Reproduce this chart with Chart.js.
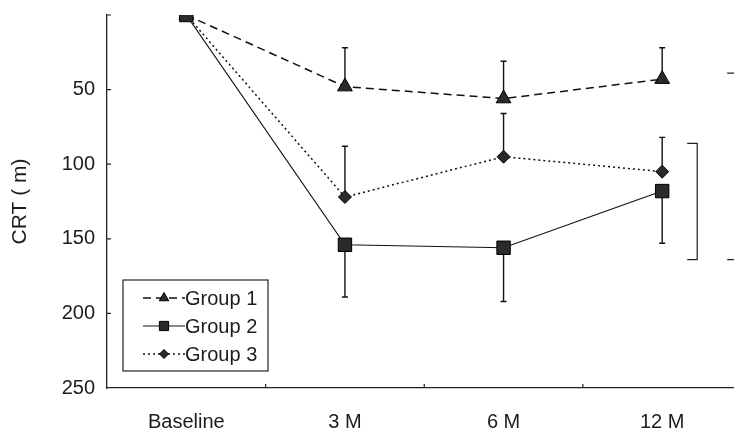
<!DOCTYPE html>
<html>
<head>
<meta charset="utf-8">
<script src="https://cdn.jsdelivr.net/npm/chart.js@4.4.0/dist/chart.umd.min.js"></script>
<style>
    html, body { margin: 0; padding: 0; background: #fff; overflow: hidden; }
    #wrap { width: 752px; height: 432px; }
</style>
</head>
<body>
<div id="wrap"><canvas id="chart" width="752" height="432"></canvas></div>
<script>
const categories = ['Baseline', '3 M', '6 M', '12 M'];
const seriesNames = ['Group 1', 'Group 2', 'Group 3'];
const group1Values = [0, 48, 56, 43];
const group1Sd = [0, 26, 25, 21];
const group2Values = [0, 154, 156, 118];
const group2Sd = [0, 35, 36, 35];
const group3Values = [0, 122, 95, 105];
const group3Sd = [0, 34, 29, 23];
const yTickValues = [0, 50, 100, 150, 200, 250];
// significance brackets drawn to the right of 12 M, [from, to] in CRT units
const brackets = [[86, 164], [39, 164]];

const FONT = '"Liberation Sans", Arial, sans-serif';
const INK = '#1c1c1c';

// draw a marker shape (used by the boxed legend)
function drawMarker(ctx, style, x, y, r) {
    ctx.beginPath();
    if (style === 'triangle') {
        ctx.moveTo(x, y - r);
        ctx.lineTo(x + r * 0.866, y + r / 2);
        ctx.lineTo(x - r * 0.866, y + r / 2);
        ctx.closePath();
    } else if (style === 'rect') {
        const s = r * Math.SQRT1_2;
        ctx.rect(x - s, y - s, 2 * s, 2 * s);
    } else {
        ctx.moveTo(x, y - r);
        ctx.lineTo(x + r, y);
        ctx.lineTo(x, y + r);
        ctx.lineTo(x - r, y);
        ctx.closePath();
    }
    ctx.fill();
    ctx.stroke();
}

const errorBars = {
    id: 'errorBars',
    beforeDatasetsDraw(chart) {
        const { ctx, scales: { y } } = chart;
        ctx.save();
        ctx.strokeStyle = '#111';
        ctx.lineWidth = 1.4;
        chart.data.datasets.forEach((ds, i) => {
            const meta = chart.getDatasetMeta(i);
            meta.data.forEach((pt, j) => {
                const sd = ds.sd[j];
                if (!sd) return;
                const yEnd = y.getPixelForValue(ds.data[j] + ds.errorDir * sd);
                ctx.beginPath();
                ctx.moveTo(pt.x, pt.y);
                ctx.lineTo(pt.x, yEnd);
                ctx.moveTo(pt.x - 3, yEnd);
                ctx.lineTo(pt.x + 3, yEnd);
                ctx.stroke();
            });
        });
        ctx.restore();
    }
};

const extras = {
    id: 'extras',
    afterDraw(chart) {
        const { ctx, chartArea: a, scales: { x, y } } = chart;
        ctx.save();
        ctx.strokeStyle = '#222';
        ctx.lineWidth = 1.2;

        // inward tick marks
        ctx.beginPath();
        y.ticks.forEach(t => {
            if (t.value >= 250) return;
            const py = y.getPixelForValue(t.value);
            ctx.moveTo(a.left, py);
            ctx.lineTo(a.left + 4, py);
        });
        for (let i = 1; i < categories.length; i++) {
            const px = (x.getPixelForValue(i - 1) + x.getPixelForValue(i)) / 2;
            ctx.moveTo(px, a.bottom);
            ctx.lineTo(px, a.bottom - 4);
        }
        ctx.stroke();

        // brackets
        ctx.beginPath();
        brackets.forEach(([from, to], k) => {
            const bx = x.getPixelForValue(categories.length - 1) + 35 + k * 40;
            const y1 = y.getPixelForValue(from);
            const y2 = y.getPixelForValue(to);
            ctx.moveTo(bx - 10, y1);
            ctx.lineTo(bx, y1);
            ctx.lineTo(bx, y2);
            ctx.lineTo(bx - 10, y2);
        });
        ctx.stroke();

        // boxed legend in the lower left
        const left = a.left + 16, top = a.bottom - 108;
        ctx.fillStyle = '#fff';
        ctx.fillRect(left, top, 145, 91);
        ctx.strokeRect(left, top, 145, 91);
        chart.data.datasets.forEach((ds, i) => {
            const cy = top + 18 + i * 28;
            ctx.strokeStyle = ds.borderColor;
            ctx.lineWidth = ds.borderWidth;
            ctx.setLineDash(ds.borderDash || []);
            ctx.beginPath();
            ctx.moveTo(left + 20, cy);
            ctx.lineTo(left + 62, cy);
            ctx.stroke();
            ctx.setLineDash([]);
            ctx.fillStyle = ds.pointBackgroundColor;
            ctx.strokeStyle = ds.pointBorderColor;
            ctx.lineWidth = 1;
            drawMarker(ctx, ds.pointStyle, left + 41, cy, ds.legendRadius);
            ctx.fillStyle = INK;
            ctx.font = '20px ' + FONT;
            ctx.textBaseline = 'middle';
            ctx.fillText(ds.label, left + 62, cy + 1);
        });
        ctx.restore();
    }
};

new Chart(document.getElementById('chart'), {
    type: 'line',
    data: {
        labels: categories,
        datasets: [
            {
                label: seriesNames[0],
                data: group1Values,
                sd: group1Sd,
                errorDir: -1,
                borderColor: '#111',
                borderWidth: 1.5,
                borderDash: [8, 5],
                pointStyle: 'triangle',
                pointRadius: 8.5,
                legendRadius: 5.5,
                pointBackgroundColor: '#2a2a2a',
                pointBorderColor: '#000',
                pointBorderWidth: 1,
                order: 2
            },
            {
                label: seriesNames[1],
                data: group2Values,
                sd: group2Sd,
                errorDir: 1,
                borderColor: '#111',
                borderWidth: 1.2,
                pointStyle: 'rect',
                pointRadius: 9.5,
                legendRadius: 6.5,
                pointBackgroundColor: '#2a2a2a',
                pointBorderColor: '#000',
                pointBorderWidth: 1,
                order: 0
            },
            {
                label: seriesNames[2],
                data: group3Values,
                sd: group3Sd,
                errorDir: -1,
                borderColor: '#111',
                borderWidth: 1.5,
                borderDash: [2, 3],
                pointStyle: 'rectRot',
                pointRadius: 6.5,
                legendRadius: 4.5,
                pointBackgroundColor: '#2a2a2a',
                pointBorderColor: '#000',
                pointBorderWidth: 1,
                order: 1
            }
        ]
    },
    options: {
        responsive: false,
        animation: false,
        devicePixelRatio: 1,
        layout: { padding: { top: 15, right: 3, left: 0, bottom: 0 } },
        plugins: { legend: { display: false }, tooltip: { enabled: false } },
        elements: { line: { tension: 0 } },
        scales: {
            x: {
                offset: true,
                grid: { display: false, drawTicks: false },
                border: { display: true, color: '#222', width: 1.3 },
                ticks: { padding: 22, color: INK, font: { family: FONT, size: 20 } },
                afterFit(scale) {
                    scale.height = 44;
                    scale.paddingLeft = 0;
                    scale.paddingRight = 0;
                }
            },
            y: {
                type: 'linear',
                reverse: true,
                min: yTickValues[0],
                max: yTickValues[yTickValues.length - 1],
                afterBuildTicks(scale) {
                    scale.ticks = yTickValues.map(v => ({ value: v }));
                },
                grid: { display: false, drawTicks: false },
                border: { display: true, color: '#222', width: 1.3 },
                ticks: {
                    padding: 12,
                    color: INK,
                    font: { family: FONT, size: 20 },
                    callback: v => (v === 0 ? '' : v)
                },
                title: {
                    display: true,
                    text: 'CRT ( m)',
                    color: INK,
                    font: { family: FONT, size: 21 },
                    padding: { top: 8, bottom: 0 }
                },
                afterFit(scale) {
                    scale.width = 107;
                    scale.paddingTop = 0;
                    scale.paddingBottom = 0;
                }
            }
        }
    },
    plugins: [errorBars, extras]
});
</script>
</body>
</html>
